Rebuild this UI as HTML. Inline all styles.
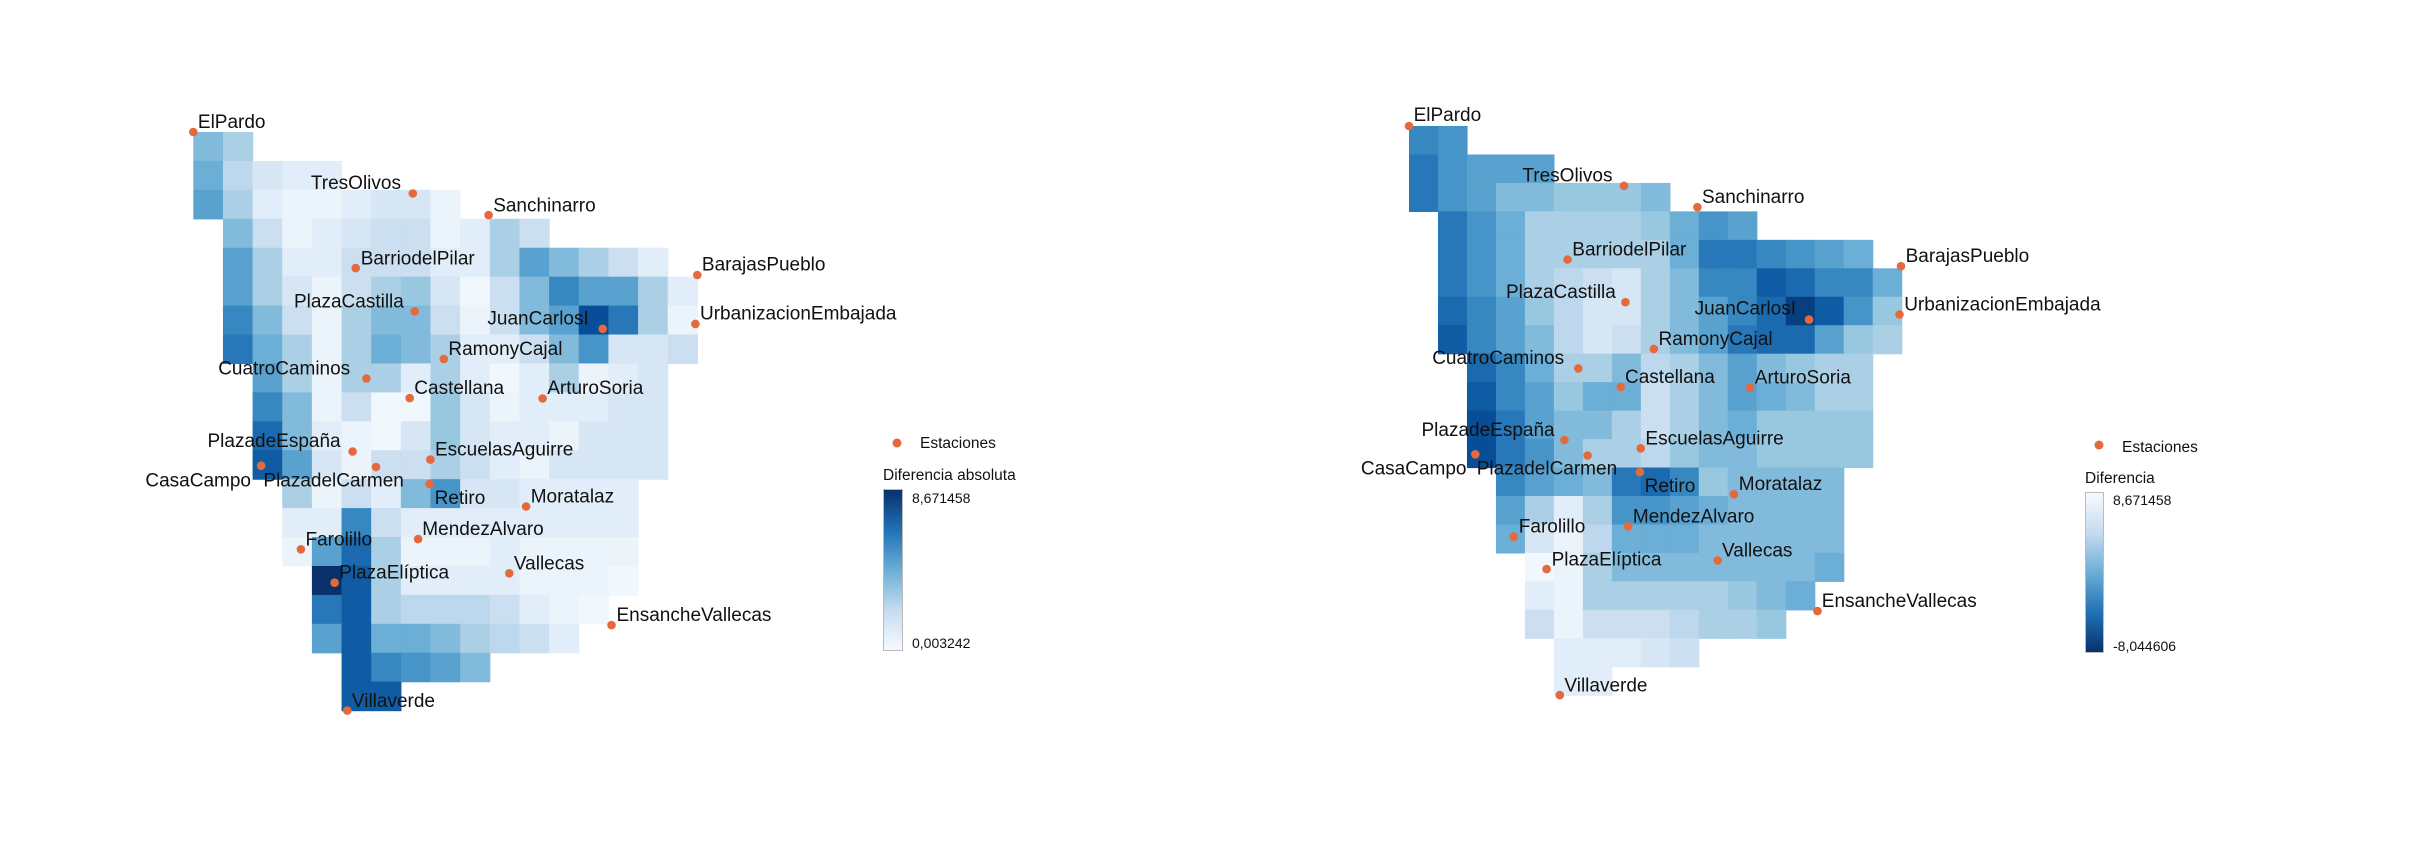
<!DOCTYPE html>
<html><head><meta charset="utf-8">
<style>
html,body{margin:0;padding:0;background:#fff;}
svg text{font-family:"Liberation Sans",sans-serif;fill:#111;}
</style></head>
<body>
<svg id="s" width="2411" height="855" xmlns="http://www.w3.org/2000/svg">
<defs>
<linearGradient id="gl" x1="0" y1="0" x2="0" y2="1">
<stop offset="0" stop-color="#08306b"/><stop offset="0.25" stop-color="#2171b5"/><stop offset="0.5" stop-color="#6baed6"/><stop offset="0.75" stop-color="#c6dbef"/><stop offset="1" stop-color="#f7fbff"/>
</linearGradient>
<linearGradient id="gr" x1="0" y1="1" x2="0" y2="0">
<stop offset="0" stop-color="#08306b"/><stop offset="0.25" stop-color="#2171b5"/><stop offset="0.5" stop-color="#6baed6"/><stop offset="0.75" stop-color="#c6dbef"/><stop offset="1" stop-color="#f7fbff"/>
</linearGradient>
</defs>
<g id="cells"></g>
<g id="labels"></g>
<circle cx="897" cy="443" r="4.5" fill="#e4693d"/>
<text x="920" y="448" font-size="15.5">Estaciones</text>
<text x="883" y="480" font-size="15.5">Diferencia absoluta</text>
<rect x="883.5" y="489.5" width="19" height="161" fill="url(#gl)" stroke="#bbb" stroke-width="1"/>
<text x="912" y="503" font-size="14">8,671458</text>
<text x="912" y="648" font-size="14">0,003242</text>
<circle cx="2099" cy="445" r="4.5" fill="#e4693d"/>
<text x="2122" y="452" font-size="15.5">Estaciones</text>
<text x="2085" y="483" font-size="15.5">Diferencia</text>
<rect x="2085.5" y="492.5" width="18" height="160" fill="url(#gr)" stroke="#bbb" stroke-width="1"/>
<text x="2113" y="505" font-size="14">8,671458</text>
<text x="2113" y="651" font-size="14">-8,044606</text>
</svg>
<script>
var stops=["#f7fbff","#deebf7","#c6dbef","#9ecae1","#6baed6","#4292c6","#2171b5","#08519c","#08306b"];
function hx(c){return [parseInt(c.substr(1,2),16),parseInt(c.substr(3,2),16),parseInt(c.substr(5,2),16)];}
function col(v){var t=Math.max(0,Math.min(1,v/9))*8;var i=Math.min(7,Math.floor(t));var f=t-i;var a=hx(stops[i]),b=hx(stops[i+1]);
return "rgb("+a.map(function(x,k){return Math.round(x+(b[k]-x)*f);}).join(",")+")";}
var L=[[0,4,3],[0,4.5,2.5,1.5,1,1],[0,5,3,1,.5,.5,1,1.5,1.5,.5],[1,4,2,.5,1,1.5,2,2,.5,1,3,2],
[1,5,3,1,1,2,2,2,1,1,3,5,4,3,2,1],[1,5,3,1.5,.5,2,3,3.5,1.5,.3,2,4,6,5,5,3,1],
[1,6,4,2,.5,3,4,4,2,.5,2,4,5,8,6.5,3,.5],[1,6.5,4.5,3,.5,3,4.5,4,3,1,1,2,4,5.5,1.5,1.5,2],
[2,5,3,.5,3,3,1,3,1,.3,1,3,.5,1,1.5],[2,6,4,.5,2,.3,.3,3.5,1.5,.5,1,1,1,1.5,1.5],
[2,7,4,1,.5,.3,1.5,3.5,1.5,1,1,.5,1.5,1.5,1.5],[2,7.5,5,1.5,.5,2,2,3,2,1,.5,1.5,1.5,1.5,1.5],
[3,3,.5,2,1,4,5.5,1.5,1.5,1,1,1,1],[3,1,1,6,2,1,1,1,1,1,1,1,1],
[3,.5,5,7,3,.5,.5,.5,1,.5,.5,.5,.5],[4,9,7.5,3,1,1,1,1,.5,.5,.5,.3],
[4,6.5,7.5,3,2.5,2.5,2.5,2,1,.5,.3],[4,5,7.5,4.5,4.5,4,3,2.5,2,1],[5,7.5,6,5.5,5,4],[5,7.5,7.5]];
var R=[[0,6,5.5],[0,6.5,5.5,5,5,5],[0,6.5,5.5,5,4,4,3.5,3.5,3.5,4],[1,6.5,5.5,4.5,3,3,3,3,3.5,4.5,5.5,5],
[1,6.5,5.5,4.5,3,3,3,3,3,4.5,6.5,6.5,6,5.5,5,4.5],[1,6.5,5.5,4.5,3,2.5,2,1.5,3,4,6,6,7.5,7,6,6,4.5],
[1,7,6,5,3.5,2.5,1.5,1.5,3,4,5,6,7,8.5,7.5,5.5,3.5],[1,7.5,6,5,4,2.5,1.5,2,3,4,5,6.5,7,7,5,3.5,3],
[2,7,6,4.5,3,3,4,2.5,3,4,5,4,3.5,3,3],[2,7.5,6,5,3.5,4.5,4.5,2,3,4,5,4.5,4,3,3],
[2,8,6.5,5,4,4,3,2,3,4,4.5,3.5,3.5,3.5,3.5],[2,8,6.5,5.5,4,3,3,2.5,3.5,4,4,3.5,3.5,3.5,3.5],
[3,6,5,4.5,4,6.5,7,6,3.5,4,4,4,4],[3,5,3,1,3,5.5,5.5,5,4.5,4,4,4,4],
[3,4.5,1.5,.5,2.5,4.5,4.5,4.5,4,4,4,4,4],[4,.3,.5,3,4,4,4,4,4,4,4,4.5],
[4,1,.5,3,3,3,3,3,3.5,4,4.5],[4,2,.5,2,2,2,2.5,3,3,3.5],[5,1,1,1,1.5,2],[5,1,1]];
var ns="http://www.w3.org/2000/svg";
var cg=document.getElementById("cells"),lg=document.getElementById("labels");
function grid(G,x0,y0,w,h){G.forEach(function(r,ri){for(var k=1;k<r.length;k++){var c=r[0]+k-1;
var e=document.createElementNS(ns,"rect");e.setAttribute("x",(x0+c*w).toFixed(2));e.setAttribute("y",(y0+ri*h).toFixed(2));
e.setAttribute("width",(w+0.6).toFixed(2));e.setAttribute("height",(h+0.6).toFixed(2));e.setAttribute("fill",col(r[k]));cg.appendChild(e);}});}
grid(L,193.3,132,29.65,28.93);
grid(R,1409,126,28.98,28.46);
var SL=[["ElPardo",140,77,152,65],["TresOlivos",713,228,447,215],["Sanchinarro",911,281,923,270],["BarriodelPilar",564,411,577,400],
["BarajasPueblo",1456,428,1468,415],["PlazaCastilla",718,517,403,505],["JuanCarlosI",1209,560,908,547],["UrbanizacionEmbajada",1451,548,1463,535],
["RamonyCajal",794,634,806,622],["CuatroCaminos",592,682,205,670],["Castellana",705,730,717,718],["ArturoSoria",1052,731,1064,718],
["PlazadeEspaña",556,861,177,848],["EscuelasAguirre",759,881,771,869],["CasaCampo",317,896,15,945],["PlazadelCarmen",617,899,323,945],
["Retiro",757,941,770,988],["Moratalaz",1009,996,1021,984],["MendezAlvaro",727,1076,738,1064],["Farolillo",421,1101,433,1089],
["Vallecas",965,1160,977,1148],["PlazaElíptica",509,1183,521,1170],["EnsancheVallecas",1232,1287,1245,1274],["Villaverde",542,1497,554,1485]];
var SR=[["ElPardo",80,93,93,78],["TresOlivos",683,244,398,230],["Sanchinarro",889,298,902,285],["BarriodelPilar",525,430,538,417],
["BarajasPueblo",1460,447,1473,434],["PlazaCastilla",687,538,352,525],["JuanCarlosI",1202,582,881,567],["UrbanizacionEmbajada",1456,569,1469,556],
["RamonyCajal",767,656,780,643],["CuatroCaminos",555,705,145,692],["Castellana",674,752,686,740],["ArturoSoria",1037,754,1050,741],
["PlazadeEspaña",516,886,115,873],["EscuelasAguirre",730,907,743,895],["CasaCampo",266,922,-55,970],["PlazadelCarmen",581,925,270,970],
["Retiro",728,967,741,1015],["Moratalaz",992,1023,1005,1010],["MendezAlvaro",695,1104,708,1092],["Farolillo",374,1130,388,1117],
["Vallecas",946,1190,958,1177],["PlazaElíptica",466,1212,480,1200],["EnsancheVallecas",1226,1318,1238,1305],["Villaverde",503,1530,516,1518]];
function st(S,ax,bx,sx,ay,by,sy){S.forEach(function(s){
var t=document.createElementNS(ns,"text");t.setAttribute("x",(bx+(s[3]-ax)*sx).toFixed(1));t.setAttribute("y",(by+(s[4]-ay)*sy+1).toFixed(1));
t.setAttribute("font-size","19");t.textContent=s[0];lg.appendChild(t);
var c=document.createElementNS(ns,"circle");c.setAttribute("cx",(bx+(s[1]-ax)*sx).toFixed(1));c.setAttribute("cy",(by+(s[2]-ay)*sy).toFixed(1));
c.setAttribute("r","4.3");c.setAttribute("fill","#e4693d");lg.appendChild(c);});}
st(SL,140,193.3,0.383,77,132,0.4075);
st(SR,80,1409,0.3565,93,126,0.396);
</script>
</body></html>
